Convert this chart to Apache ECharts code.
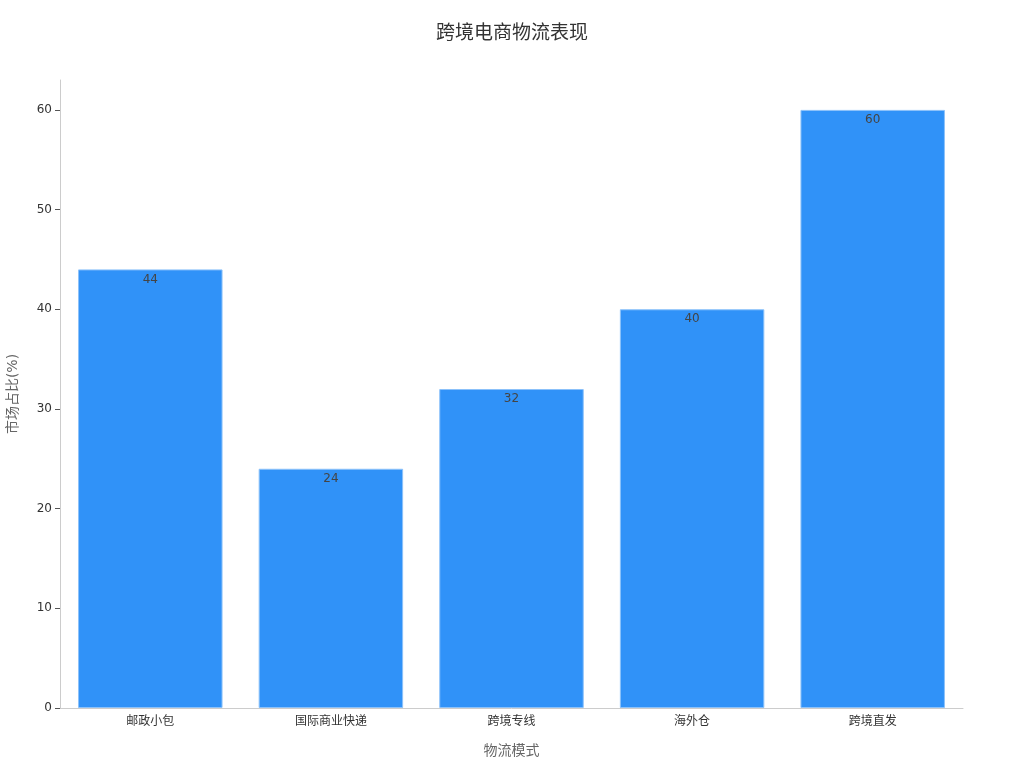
<!DOCTYPE html>
<html>
<head>
<meta charset="utf-8">
<script src="https://cdn.jsdelivr.net/npm/echarts@6/dist/echarts.min.js"></script>
<style>
  html, body { margin: 0; padding: 0; background: #fff; }
  #main { width: 1024px; height: 768px; }
</style>
</head>
<body>
<div id="main"></div>
<script>
// 物流模式 / 市场占比
const categories = ['邮政小包', '国际商业快递', '跨境专线', '海外仓', '跨境直发'];
const shares = [44, 24, 32, 40, 60];

const font = '"DejaVu Sans", "Noto Sans CJK SC", sans-serif';
const myChart = echarts.init(document.getElementById('main'));

const option = {
  backgroundColor: '#fff',
  animation: false,
  title: {
    text: '跨境电商物流表现',
    left: 'center',
    top: 20,
    textStyle: { fontFamily: font, fontSize: 19, fontWeight: 'normal', color: '#333' }
  },
  grid: { left: 60, right: 61, top: 80, bottom: 60, containLabel: false, outerBoundsMode: 'none' },
  xAxis: {
    type: 'category',
    data: categories,
    name: '物流模式',
    nameLocation: 'middle',
    nameGap: 36,
    nameTextStyle: { fontFamily: font, fontSize: 14, color: '#666' },
    axisLine: { lineStyle: { color: '#ccc' } },
    axisTick: { alignWithLabel: true, length: 5, lineStyle: { color: '#555' } },
    axisLabel: { fontFamily: font, fontSize: 12, color: '#333', margin: 8 }
  },
  yAxis: {
    type: 'value',
    min: 0,
    max: 63,
    interval: 10,
    name: '市场占比(%)',
    nameLocation: 'middle',
    nameGap: 40,
    nameTextStyle: { fontFamily: font, fontSize: 14, color: '#666' },
    axisLine: { show: true, lineStyle: { color: '#ccc' } },
    axisTick: { show: true, length: 5, lineStyle: { color: '#555' } },
    axisLabel: {
      fontFamily: font, fontSize: 12, color: '#333', margin: 8,
      showMaxLabel: false
    },
    splitLine: { show: false }
  },
  series: [{
    type: 'bar',
    data: shares,
    barCategoryGap: '20%',
    itemStyle: { color: '#3092f8', borderColor: '#8cc2fa', borderWidth: 1 },
    label: {
      show: true,
      position: 'insideTop',
      distance: 4,
      fontFamily: font,
      fontSize: 12,
      color: '#444'
    }
  }]
};
myChart.setOption(option);
</script>
</body>
</html>
